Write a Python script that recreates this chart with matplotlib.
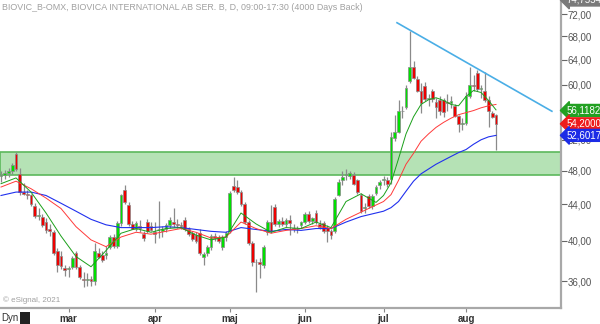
import matplotlib
matplotlib.use("Agg")
import matplotlib.pyplot as plt
import numpy as np
from matplotlib.patches import Rectangle
from matplotlib.ticker import FixedLocator, FuncFormatter, NullLocator
import matplotlib.transforms as mtransforms

plt.rcParams["font.family"] = ["Liberation Sans", "DejaVu Sans"]

# daily candles, trading-day index 0..132 (3 Feb .. 12 Aug 2021)
opens = [47.3, 47.5, 47.7, 47.9, 50.1, 47.6, 45.4, 45.2, 45.0, 43.8,
         42.7, 42.6, 42.0, 41.2, 40.9, 39.0, 38.5, 37.3, 37.2, 37.4,
         38.8, 37.4, 36.2, 36.1, 36.2, 36.0, 38.8, 38.6, 38.6, 39.4,
         40.4, 39.5, 41.9, 45.7, 43.9, 41.8, 41.3, 41.6, 40.7, 42.0,
         41.6, 40.9, 41.3, 41.0, 41.3, 41.7, 42.0, 41.8, 41.7, 42.2,
         41.2, 40.8, 40.6, 40.8, 38.4, 38.8, 39.4, 40.5, 40.4, 39.4,
         40.4, 41.0, 46.1, 46.0, 45.4, 44.0, 42.0, 39.8, 37.9, 37.9,
         37.6, 40.9, 42.0, 43.7, 41.8, 42.1, 41.8, 42.2, 41.4, 41.3,
         41.7, 42.0, 42.9, 42.1, 43.0, 41.8, 41.9, 41.4, 41.0, 41.0,
         45.1, 46.8, 47.4, 47.3, 47.5, 46.8, 45.1, 43.6, 44.9, 43.8,
         45.3, 46.2, 46.8, 46.8, 47.0, 52.2, 53.1, 56.0, 56.6, 60.6,
         62.9, 60.9, 59.1, 59.8, 57.8, 59.0, 57.4, 57.6, 57.6, 57.4,
         57.2, 56.7, 55.3, 54.2, 54.3, 58.2, 60.0, 61.9, 59.3, 59.1,
         57.6, 55.7, 55.4]
highs = [47.9, 48.1, 48.3, 49.0, 50.4, 48.3, 46.5, 45.6, 45.2, 44.1,
         43.6, 42.9, 42.4, 41.8, 41.1, 39.3, 39.0, 37.6, 37.5, 38.5,
         39.0, 37.6, 36.9, 36.8, 36.5, 39.8, 39.3, 39.0, 39.5, 40.6,
         40.7, 42.1, 45.2, 46.3, 44.2, 42.1, 42.1, 42.2, 41.0, 42.3,
         42.0, 42.0, 44.4, 41.6, 41.9, 42.5, 43.6, 42.3, 42.0, 42.5,
         41.5, 41.0, 40.9, 41.2, 38.9, 39.6, 40.7, 40.8, 40.6, 40.6,
         41.0, 45.5, 47.2, 46.8, 45.7, 44.3, 42.2, 40.0, 38.2, 38.3,
         39.6, 42.2, 43.9, 44.0, 42.3, 42.5, 42.4, 42.8, 41.8, 41.6,
         42.1, 43.1, 43.2, 42.6, 43.3, 42.2, 42.1, 41.7, 41.3, 44.8,
         47.0, 48.0, 48.2, 48.0, 47.8, 47.0, 45.3, 44.1, 45.2, 45.2,
         46.2, 46.8, 47.3, 47.2, 53.0, 55.5, 57.6, 56.8, 60.0, 69.0,
         63.8, 61.3, 60.3, 60.4, 58.5, 59.4, 58.0, 58.2, 58.0, 58.5,
         58.3, 57.0, 55.5, 55.0, 58.8, 62.9, 61.5, 62.3, 60.0, 62.0,
         58.2, 56.0, 55.6]
lows = [46.6, 47.0, 47.2, 47.6, 48.0, 45.0, 45.0, 44.6, 43.8, 42.4,
        42.2, 41.5, 40.8, 40.5, 38.6, 36.9, 37.2, 36.5, 36.4, 37.2,
        37.2, 36.2, 35.5, 35.6, 35.6, 35.7, 38.3, 37.9, 38.2, 39.2,
        39.3, 39.3, 41.6, 44.0, 41.6, 41.2, 41.0, 40.9, 40.0, 40.8,
        41.0, 39.8, 40.3, 40.4, 40.9, 41.4, 41.5, 41.4, 41.3, 41.0,
        40.5, 40.0, 39.8, 38.6, 37.6, 38.5, 39.1, 40.0, 39.8, 39.1,
        40.0, 40.8, 45.4, 45.2, 43.8, 41.8, 39.6, 37.5, 35.0, 36.3,
        37.3, 40.6, 40.8, 41.6, 41.5, 41.6, 41.5, 40.6, 40.9, 40.8,
        41.4, 41.8, 41.9, 41.8, 41.8, 41.3, 40.8, 39.9, 40.2, 40.8,
        44.9, 46.3, 46.8, 47.0, 46.2, 45.2, 43.0, 43.0, 43.6, 43.5,
        45.0, 45.8, 46.3, 46.0, 46.4, 51.8, 52.9, 55.0, 56.3, 60.2,
        60.9, 58.8, 55.8, 57.5, 56.8, 57.4, 55.0, 55.5, 55.2, 56.0,
        56.5, 55.1, 53.1, 53.4, 54.0, 57.9, 59.0, 59.0, 58.0, 57.4,
        53.8, 55.0, 50.7]
closes = [47.5, 47.7, 47.9, 48.7, 48.2, 45.4, 45.2, 45.0, 44.0, 42.7,
          42.8, 41.7, 41.1, 41.0, 38.8, 37.6, 37.5, 37.1, 37.3, 38.3,
          37.4, 36.4, 36.1, 36.2, 36.0, 39.0, 38.4, 38.1, 38.8, 40.4,
          39.5, 41.9, 45.0, 44.2, 41.8, 41.3, 41.9, 41.4, 40.3, 41.0,
          41.1, 40.7, 41.2, 41.3, 41.7, 42.2, 41.8, 41.7, 41.6, 41.2,
          40.7, 40.2, 40.0, 38.8, 38.7, 39.4, 40.5, 40.3, 40.0, 40.4,
          40.8, 45.3, 45.7, 45.4, 44.0, 42.0, 39.8, 37.9, 37.9, 37.7,
          39.4, 42.0, 41.0, 41.8, 42.1, 41.8, 42.2, 41.9, 41.2, 41.2,
          42.0, 42.9, 42.1, 42.4, 42.0, 41.5, 41.0, 41.0, 40.6, 44.6,
          46.6, 47.2, 47.6, 47.7, 46.4, 45.4, 43.2, 43.7, 43.8, 44.9,
          46.0, 46.6, 47.0, 46.4, 52.4, 53.1, 56.0, 56.1, 59.5, 62.9,
          61.1, 59.1, 57.2, 57.8, 57.9, 57.8, 56.6, 56.0, 55.9, 57.2,
          57.5, 55.3, 54.2, 54.3, 58.2, 60.0, 59.8, 59.3, 59.5, 57.6,
          56.0, 55.1, 54.2]

# moving averages at sample days
ma_days = [0, 4, 8, 12, 16, 20, 24, 28, 32, 36, 40, 44, 48, 52, 56, 60, 64,
           68, 72, 76, 80, 84, 88, 92, 96, 100, 102, 104, 106, 108, 110, 112,
           114, 116, 118, 120, 122, 124, 126, 128, 130, 132]
ma_fast = [46.4, 47.1, 45.4, 43.0, 40.5, 38.4, 37.4, 39.0, 40.8, 41.3, 40.9,
           41.3, 41.4, 40.6, 40.1, 40.4, 43.0, 41.8, 40.9, 41.4, 41.3, 42.0,
           41.4, 44.3, 45.2, 44.2, 45.0, 46.5, 49.5, 52.8, 55.2, 57.0, 57.7,
           58.0, 57.6, 57.0, 56.8, 58.2, 59.1, 58.8, 57.6, 56.2]
ma_mid = [46.0, 46.7, 45.8, 44.7, 43.5, 41.5, 40.1, 39.4, 40.4, 40.9, 40.7,
          41.0, 41.3, 40.9, 40.3, 40.4, 42.0, 41.3, 40.8, 41.1, 41.3, 41.6,
          41.3, 42.3, 43.1, 43.9, 44.3, 45.1, 46.8, 48.8, 50.2, 51.8, 52.8,
          53.7, 54.4, 55.0, 55.5, 55.8, 56.1, 56.5, 56.8, 57.0]
ma_slow = [45.0, 45.4, 45.4, 45.0, 44.1, 43.2, 42.3, 41.7, 41.4, 41.4, 41.4,
           41.5, 41.4, 41.2, 41.0, 40.9, 41.4, 41.2, 41.0, 41.2, 41.1, 41.3,
           41.3, 42.0, 42.6, 43.0, 43.2, 43.6, 44.3, 45.5, 46.7, 47.6, 48.2,
           48.8, 49.3, 49.8, 50.3, 50.7, 51.4, 52.0, 52.4, 52.6]

# drawn objects
zone = (47.45, 50.36)
trend_days = [105.6, 146.9]
trend_prices = [70.47, 56.0]

month_days = [18, 41, 61, 81, 102, 124]
month_labels = ["mar", "apr", "maj", "jun", "jul", "aug"]
price_ticks = [36, 40, 44, 48, 52, 56, 60, 64, 68, 72]
y_top = 74.7554
y_bottom = 33.6
tags = [(74.7554, "74,7554", "#7a7a7a"), (56.1182, "56,1182", "#22a022"),
        (54.2000, "54,2000", "#ee1c1c"), (52.6017, "52,6017", "#1c2ce6")]

W, H = 600, 324
fig = plt.figure(figsize=(W / 100, H / 100), dpi=100)
fig.patch.set_facecolor("white")
ax = fig.add_axes([0, 16 / H, 561 / W, 308 / H])
ax.set_yscale("log")
ax.set_xlim(-0.27, 149.33)
ax.set_ylim(y_bottom, y_top)

ax.axhspan(zone[0], zone[1], facecolor="#b5e2b5", edgecolor="#5cb85c", lw=1.2, zorder=1)

o = np.array(opens)
c = np.array(closes)
idx = np.arange(len(o))
ax.vlines(idx, lows, highs, color="#8a8a8a", lw=0.9, zorder=3)
body_lo = np.minimum(o, c)
body_h = np.abs(c - o)
cols = np.where(c > o, "#00e000", "#ee0000")
ax.bar(idx, body_h, bottom=body_lo, width=0.72, color=cols,
       edgecolor="#8a8a8a", linewidth=0.5, zorder=4)

ax.plot(ma_days, ma_slow, color="#2030ee", lw=0.8, zorder=5)
ax.plot(ma_days, ma_mid, color="#ff3a3a", lw=0.7, zorder=5)
ax.plot(ma_days, ma_fast, color="#1aa01a", lw=0.7, zorder=5)
ax.plot(trend_days, trend_prices, color="#4aaee6", lw=1.2, zorder=5)

for s in ["left", "top"]:
    ax.spines[s].set_visible(False)
for s in ["right", "bottom"]:
    ax.spines[s].set_color("#a8a8a8")
    ax.spines[s].set_linewidth(1.6)

ax.yaxis.tick_right()
ax.yaxis.set_major_locator(FixedLocator(price_ticks))
ax.yaxis.set_minor_locator(NullLocator())
ax.yaxis.set_major_formatter(FuncFormatter(lambda v, p: f"{v:.2f}".replace(".", ",")))
ax.tick_params(axis="y", direction="out", length=4, width=0.8, color="#666666",
               labelsize=7, labelcolor="#555555", pad=1)
ax.set_xticks(month_days)
ax.set_xticklabels(month_labels)
ax.tick_params(axis="x", direction="out", length=3, width=0.8, color="#888888",
               labelsize=7, labelcolor="#333333", pad=1.5)
for t in ax.get_xticklabels():
    t.set_fontweight("bold")

trans = mtransforms.blended_transform_factory(ax.transAxes, ax.transData)
for val, txt, col in tags:
    ax.text(1.01, val, txt, transform=trans, fontsize=7, color="white",
            va="center", ha="left", clip_on=False, zorder=10,
            bbox=dict(boxstyle="larrow,pad=0.1", facecolor=col, edgecolor=col))

fig.text(2 / W, 1 - 7 / H, "BIOVIC_B-OMX, BIOVICA INTERNATIONAL AB SER. B, D, 09:00-17:30 (4000 Days Back)",
         fontsize=6.4, color="#a0a0a0", va="center", ha="left")
fig.text(3 / W, 1 - 300 / H, "© eSignal, 2021", fontsize=5.8, color="#a0a0a0", va="center", ha="left")
fig.text(1 / W, 1 - 318 / H, "Dyn", fontsize=7, color="#333333", va="center", ha="left")
fig.patches.append(Rectangle((20 / W, 0), 10 / W, 12 / H, transform=fig.transFigure,
                             facecolor="#222222", edgecolor="none"))

fig.savefig("out.png", dpi=100)
